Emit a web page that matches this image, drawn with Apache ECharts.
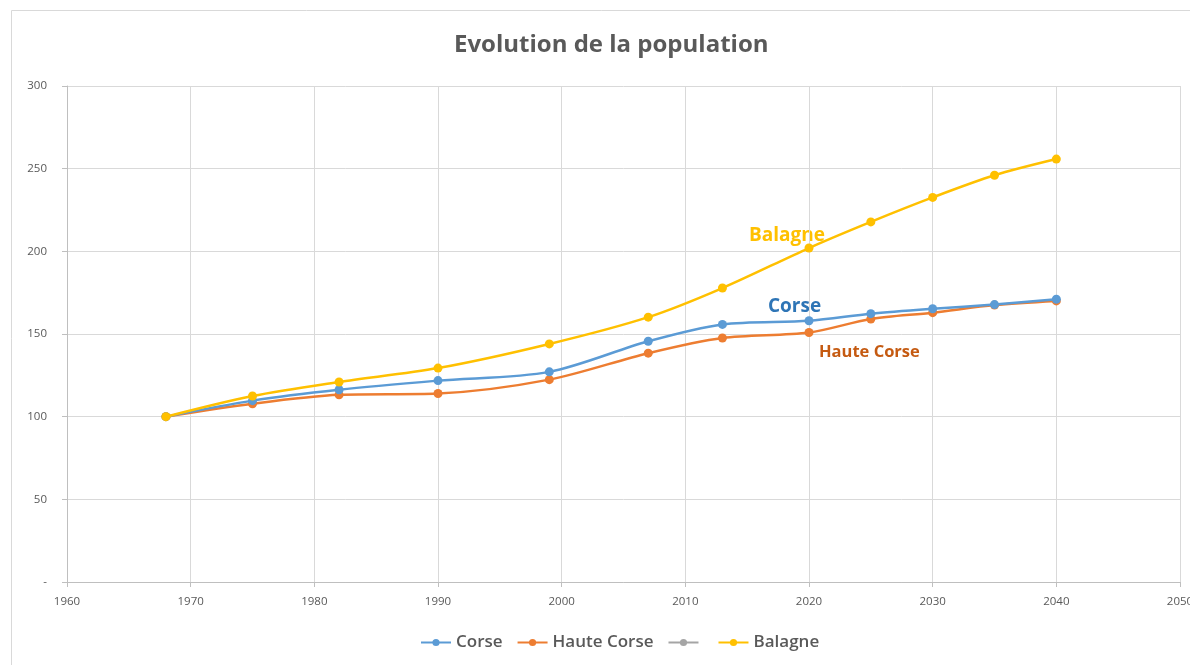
<!DOCTYPE html>
<html>
<head>
<meta charset="utf-8">
<script src="https://cdn.jsdelivr.net/npm/echarts@6/dist/echarts.min.js"></script>
<style>html,body{margin:0;padding:0;background:#fff}#c{width:1190px;height:665px}</style>
</head>
<body>
<div id="c"></div>
<script>
const years = [1968,1975,1982,1990,1999,2007,2013,2020,2025,2030,2035,2040];
const corse = [100,109.7,116.3,121.8,127.1,145.6,155.8,158,162.3,165.3,167.8,171];
const hauteCorse = [100,107.8,113.2,114,122.4,138.4,147.6,150.9,159.1,162.9,167.5,170];
const balagne = [100,112.5,121,129.4,144,160.2,177.8,202,217.8,232.6,246,255.8];
const seriesNames = ['Corse','Haute Corse','\u200b','Balagne'];
const colors = ['#5b9bd5','#ed7d31','#a5a5a5','#ffc000'];
const seriesData = [corse, hauteCorse, [], balagne];

const font = '"Open Sans", "Noto Sans", sans-serif';
const chart = echarts.init(document.getElementById('c'), null, {renderer:'canvas'});
const series = seriesNames.map((n,i)=>({
  name:n, type:'line', smooth:0.3,
  data: seriesData[i].map((v,j)=>[years[j], v]),
  symbol:'circle', symbolSize:9,
  lineStyle:{width:2.5, color:colors[i]},
  itemStyle:{color:colors[i]},
  z: i===3 ? 3 : (i===0 ? 2 : 1)
}));
chart.setOption({
  animation:false,
  color: colors,
  title:{text:'Evolution de la population', left:449, top:28,
    textStyle:{fontFamily:font, fontSize:24, fontWeight:'bold', color:'#595959'}},
  grid:{left:67, right:10, top:86, bottom:83, outerBoundsMode:'none', containLabel:false},
  xAxis:{type:'value', min:1960, max:2050, interval:10,
    axisLine:{show:true, lineStyle:{color:'#bfbfbf', width:1}},
    axisTick:{show:true, length:5, lineStyle:{color:'#bfbfbf'}},
    axisLabel:{color:'#595959', fontFamily:font, fontSize:11.5, margin:14, formatter:v=>String(v)},
    splitLine:{show:true, lineStyle:{color:'#d9d9d9', width:1}}},
  yAxis:{type:'value', min:0, max:300, interval:50,
    axisLine:{show:true, lineStyle:{color:'#bfbfbf', width:1}},
    axisTick:{show:true, length:5, lineStyle:{color:'#bfbfbf'}},
    axisLabel:{color:'#595959', fontFamily:font, fontSize:11.5, margin:20,
      formatter:v=> v===0 ? '-' : String(v)},
    splitLine:{show:true, lineStyle:{color:'#d9d9d9', width:1}}},
  legend:{bottom:9, left:415, itemWidth:30, itemHeight:9, itemGap:14,
    data:seriesNames,
    textStyle:{fontFamily:font, fontSize:17, fontWeight:600, color:'#595959'}},
  graphic:[
    {type:'rect', shape:{x:11.5, y:10.5, width:1190, height:700}, style:{fill:'none', stroke:'#d9d9d9', lineWidth:1}, silent:true, z:-1},
    {type:'text', left:749, top:226, style:{text:'Balagne', fill:'#ffc000', font:'bold 19px '+font}},
    {type:'text', left:768, top:297, style:{text:'Corse', fill:'#2e75b6', font:'bold 19px '+font}},
    {type:'text', left:819, top:344, style:{text:'Haute Corse', fill:'#c55a11', font:'bold 16.5px '+font}}
  ],
  series: series
});
</script>
</body>
</html>
